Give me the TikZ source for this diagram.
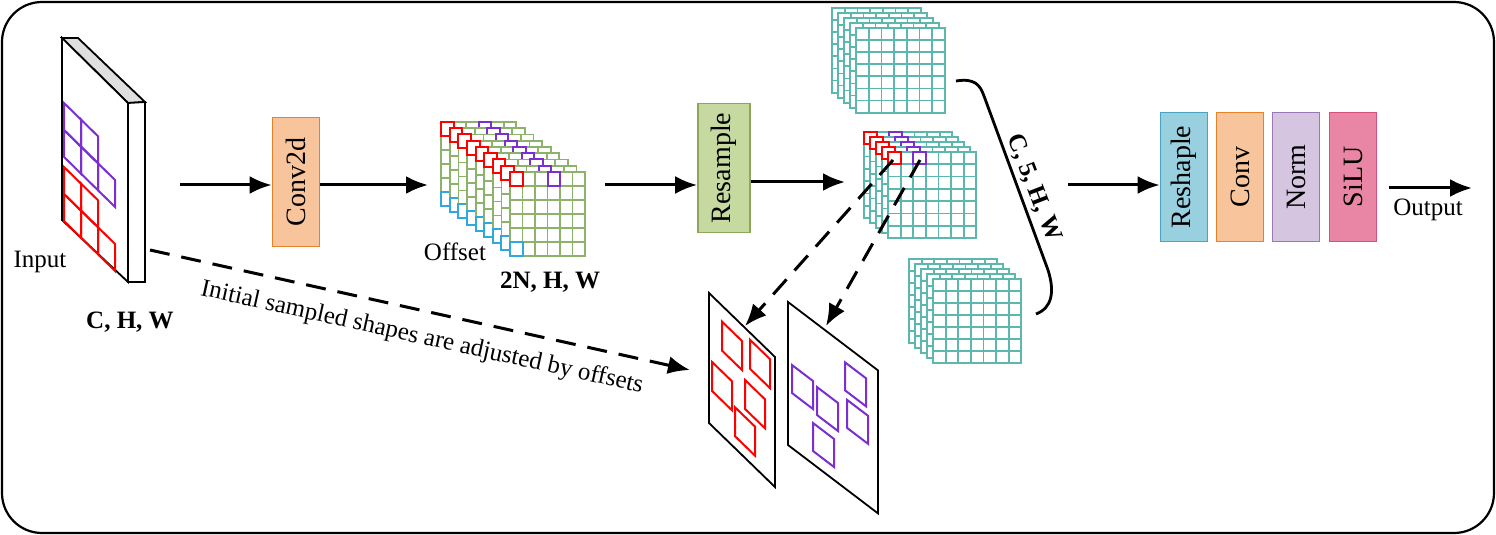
\documentclass[tikz,border=0pt]{standalone}
\usepackage{fontspec}
\setmainfont{Liberation Serif}
\usetikzlibrary{arrows.meta}
\definecolor{grn}{HTML}{8DB36A}
\definecolor{tea}{HTML}{5CB8AC}
\definecolor{org}{HTML}{F8C49C}
\definecolor{orgd}{HTML}{E8822A}
\definecolor{resf}{HTML}{C6D9A0}
\definecolor{resd}{HTML}{8EA65C}
\definecolor{blf}{HTML}{98D0E0}
\definecolor{bld}{HTML}{4AA3BF}
\definecolor{nof}{HTML}{D6C5E0}
\definecolor{nod}{HTML}{9B78B5}
\definecolor{sif}{HTML}{E985A5}
\definecolor{sid}{HTML}{D4507D}
\definecolor{pur}{HTML}{7B2FD0}
\definecolor{cya}{HTML}{2FA8E0}
\begin{document}
\begin{tikzpicture}[x=0.5pt,y=-0.5pt,
  font=\fontsize{12.5}{14}\selectfont,
  arr/.style={-{Latex[length=11pt,width=9pt]},line width=1.5pt},
  darr/.style={-{Latex[length=11pt,width=9pt]},line width=1.5pt,dash pattern=on 10pt off 6pt},
  blk/.style={draw,line width=0.9pt,minimum width=23.5pt,minimum height=64.5pt,inner sep=0pt,font=\fontsize{14}{16}\selectfont},
  cellr/.style={draw=red,line width=1pt},
  cellp/.style={draw=pur,line width=1pt}]
\useasboundingbox (0,0) rectangle (1496,535);
\draw[line width=1.1pt,rounded corners=20pt] (2,2) rectangle (1494,533);
% ---------- input slab
\draw[line width=0.9pt,fill=gray!25] (62,38) -- (78,38) -- (145,102) -- (128,103) -- cycle;
\draw[line width=0.9pt,fill=white] (128,103) -- (145,102) -- (145,282) -- (128,282) -- cycle;
\draw[line width=0.9pt,fill=white] (62,38) -- (128,103) -- (128,282) -- (62,220) -- cycle;
\begin{scope}[cm={1,-0.98,0,1,(62,38)}]
  \foreach \c/\r in {0/0,1/0,0/1,1/1,2/1} \draw[cellp] (2+\c*17,63+\r*27) rectangle ++(17,27);
  \foreach \c/\r in {0/0,1/0,0/1,1/1,2/1} \draw[cellr] (2+\c*17,127+\r*27) rectangle ++(17,27);
\end{scope}
\node (inl) at (40,262) {Input};
\node[font=\fontsize{12.5}{14}\selectfont\bfseries] (chw) at (130,322) {C, H, W};
% ---------- blocks
\node[blk,fill=org,draw=orgd] (conv2d) at (296,182) {\rotatebox{90}{Conv2d}};
\node[blk,fill=resf,draw=resd,minimum width=26pt] (res) at (724,168) {\rotatebox{90}{Resample}};
\coordinate (a1s) at (180,185); \coordinate (a1e) at (262,185);
\draw[arr] (a1s) -- (conv2d.west|-a1e);
\coordinate (a2s) at (345,185); \coordinate (a2e) at (428,185);
\draw[arr] (conv2d.east|-a2s) -- (a2e);
\coordinate (a3s) at (605,185);
\draw[arr] (a3s) -- (res.west|-a3s);
\coordinate (a4e) at (845,182);
\draw[arr] (res.east|-a4e) -- (a4e);
% ---------- stack macro
\newcommand{\mystack}[8]{%
  \pgfmathtruncatemacro\ncm{#3-1}\pgfmathtruncatemacro\nrm{#4-1}%
  \foreach \L in {#7,...,0}{%
    \begin{scope}[shift={(#1-\L*\sdx,#2-\L*\sdy)}]
      \filldraw[fill=white,draw=#8,line width=0.9pt] (0,0) rectangle (#3*#5,#4*#6);
      \foreach \i in {1,...,\ncm} \draw[#8,line width=0.9pt] (\i*#5,0) -- (\i*#5,#4*#6);
      \foreach \i in {1,...,\nrm} \draw[#8,line width=0.9pt] (0,\i*#6) -- (#3*#5,\i*#6);
      \myhook{#5}{#6}
    \end{scope}}}
% green offset cube
\def\sdx{8.6}\def\sdy{6.25}
\newcommand{\myhook}[2]{%
  \draw[red,line width=1pt] (0,0) rectangle (#1,#2);
  \draw[pur,line width=1pt] (3*#1,0) rectangle (4*#1,#2);
  \draw[cya,line width=1pt] (0,5*#2) rectangle (#1,6*#2);}
\mystack{510}{172}{6}{6}{12.5}{14}{8}{grn}
\node (off) at (455,252) {Offset};
\node[font=\fontsize{12.5}{14}\selectfont\bfseries] (nhw) at (550,282) {2N, H, W};
% teal stacks
\def\sdx{6}\def\sdy{5}
\renewcommand{\myhook}[2]{}
\mystack{856}{28}{7}{7}{12.7}{12.1}{4}{tea}
\mystack{933}{279}{7}{7}{12.6}{12}{4}{tea}
\renewcommand{\myhook}[2]{%
  \draw[red,line width=1pt] (0,0) rectangle (#1,#2);
  \draw[pur,line width=1pt] (2*#1,0) rectangle (3*#1,#2);}
\mystack{888}{152}{7}{7}{12.6}{12.3}{4}{tea}
% brace and label
\coordinate (bs) at (956,81); \coordinate (be) at (1036,314);
\draw[line width=1.4pt] (bs) .. controls (975,78) and (980,85) .. (984,96) -- (1048,270) .. controls (1055,292) and (1052,308) .. (be);
\node[rotate=-69,font=\fontsize{12.5}{14}\selectfont\bfseries,inner sep=1pt] (c5) at (1034,188) {C, 5, H, W};
% right blocks
\node[blk,fill=blf,draw=bld] (resh) at (1184,177) {\rotatebox{90}{Reshaple}};
\node[blk,fill=org,draw=orgd] (conv) at (1240,177) {\rotatebox{90}{Conv}};
\node[blk,fill=nof,draw=nod] (norm) at (1296,177) {\rotatebox{90}{Norm}};
\node[blk,fill=sif,draw=sid] (silu) at (1353,177) {\rotatebox{90}{SiLU}};
\coordinate (a5s) at (1068,185);
\draw[arr] (a5s) -- (resh.west|-a5s);
\coordinate (oute) at (1472,188);
\draw[arr] (silu.east|-oute) ++(12,0) -- (oute);
\node (outl) at (1428,210) {Output};
% panels
\begin{scope}[cm={1,-0.97,0,1,(709,293)}]
  \draw[line width=0.9pt,fill=white] (0,0) rectangle (66,130);
  \foreach \u/\v in {13/16,41/7,3/66,36/52,26/89} \draw[cellr] (\u,\v) rectangle ++(20,29);
\end{scope}
\begin{scope}[cm={1,-0.76,0,1,(788,302)}]
  \draw[line width=0.9pt,fill=white] (0,0) rectangle (90,143);
  \foreach \u/\v in {4/60,29/63,57/17,59/53,25/102} \draw[cellp] (\u,\v) rectangle ++(21,28);
\end{scope}
\coordinate (d1s) at (893,160); \coordinate (d1e) at (745,326);
\coordinate (d2s) at (920,160); \coordinate (d2e) at (826,326);
\draw[darr] (d1s) -- (d1e);
\draw[darr] (d2s) -- (d2e);
\coordinate (d0s) at (150,250); \coordinate (d0e) at (690,370);
\draw[darr] (d0s) -- (d0e);
\node[rotate=-12.5] (lbl) at (422,338) {Initial sampled shapes are adjusted by offsets};
\end{tikzpicture}
\end{document}
